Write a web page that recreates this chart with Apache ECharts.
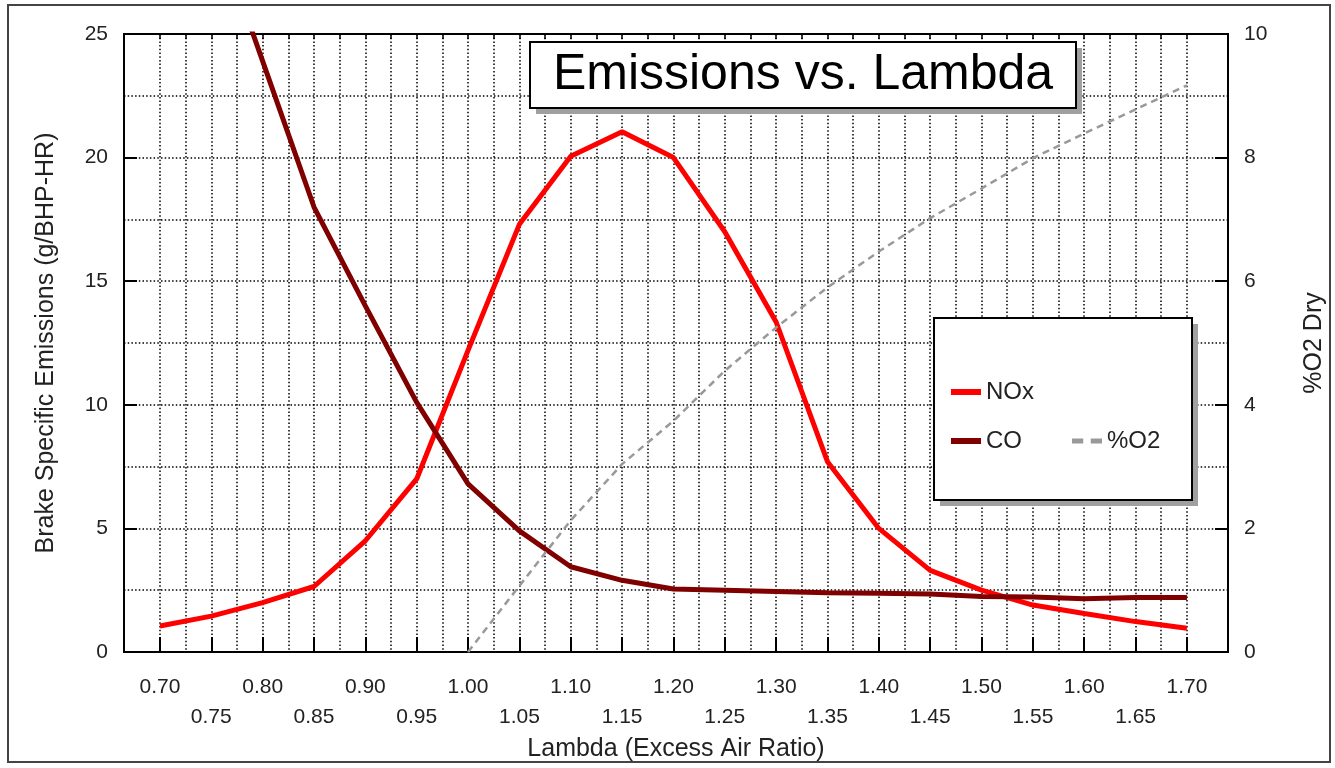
<!DOCTYPE html>
<html>
<head>
<meta charset="utf-8">
<script src="https://cdn.jsdelivr.net/npm/echarts@6/dist/echarts.min.js"></script>
<style>
    html, body {margin: 0; padding: 0; background: #fff;}
    #chart {width: 1335px; height: 768px;}
</style>
</head>
<body>
<div id="chart"></div>
<script>
    // lambda values (x categories / tick labels)
    const lambda = [0.70, 0.75, 0.80, 0.85, 0.90, 0.95, 1.00, 1.05, 1.10, 1.15, 1.20,
        1.25, 1.30, 1.35, 1.40, 1.45, 1.50, 1.55, 1.60, 1.65, 1.70];
    // g/BHP-HR
    const noxData = [1.05, 1.45, 2.0, 2.65, 4.5, 7.0, 12.2, 17.3, 20.05, 21.05, 20.0,
        17.0, 13.35, 7.7, 5.0, 3.3, 2.5, 1.9, 1.56, 1.23, 0.96];
    const coData = [35, 29.8, 23.9, 18.0, 14.0, 10.1, 6.8, 4.9, 3.45, 2.9, 2.55,
        2.5, 2.45, 2.4, 2.38, 2.35, 2.25, 2.22, 2.15, 2.2, 2.2];
    // %O2 dry (right axis)
    const o2Data = ['-', '-', '-', '-', '-', '-', 0, 1.07, 2.13, 3.04, 3.74,
        4.55, 5.25, 5.9, 6.48, 7.02, 7.5, 7.99, 8.39, 8.78, 9.17];
    const leftTicks = [0, 5, 10, 15, 20, 25];
    const rightTicks = [0, 2, 4, 6, 8, 10];

    const FONT = 'Liberation Sans, Arial, sans-serif';
    const TXT = '#222';

    // dotted grid every half step
    const gridValues = [];
    lambda.forEach((v, i) => {
        gridValues.push(v);
        if (i < lambda.length - 1) gridValues.push(+((v + lambda[i + 1]) / 2).toFixed(3));
    });

    const dotted = {color: '#000', width: 1.5, type: [1.5, 2.2]};
    const legendText = {fontFamily: FONT, fontSize: 24, color: TXT};
    const dashIcon = 'path://M0,0h9v4h-9z M15,0h9v4h-9z';

    // box with a flat drop shadow (shadow drawn as its own rect)
    const shadowBox = (x, y, w, h, z) => [
        {
            type: 'rect', silent: true, z: z,
            shape: {x: x + 6, y: y + 6, width: w, height: h},
            style: {fill: '#a0a0a0'}
        },
        {
            type: 'rect', silent: true, z: z + 1,
            shape: {x: x, y: y, width: w, height: h},
            style: {fill: '#fff', stroke: '#000', lineWidth: 2}
        }
    ];

    const chart = echarts.init(document.getElementById('chart'));

    const option = {
        backgroundColor: '#fff',
        animation: false,
        title: {
            text: 'Emissions vs. Lambda',
            left: 803,
            textAlign: 'center',
            top: 48,
            padding: 0,
            z: 20,
            textStyle: {fontFamily: FONT, fontSize: 50, fontWeight: 'normal', color: '#000', lineHeight: 54}
        },
        legend: [
            {
                data: [{name: 'NOx', icon: 'rect'}],
                left: 946, top: 375,
                itemWidth: 30, itemHeight: 6,
                z: 20,
                textStyle: legendText
            },
            {
                data: [{name: 'CO', icon: 'rect'}, {name: '%O2', icon: dashIcon}],
                left: 946, top: 424,
                itemWidth: 30, itemHeight: 6,
                itemGap: 50,
                z: 20,
                textStyle: legendText
            }
        ],
        graphic: [
            {
                type: 'rect', silent: true, z: 0,
                shape: {x: 8, y: 5, width: 1322, height: 757},
                style: {fill: 'none', stroke: '#444', lineWidth: 2}
            },
            ...shadowBox(530, 42, 546, 66, 10),
            ...shadowBox(934, 318, 258, 182, 10)
        ],
        grid: {
            left: 124, top: 34, width: 1104, height: 618,
            show: true, borderColor: '#000', borderWidth: 2, backgroundColor: '#fff'
        },
        xAxis: [
            {
                type: 'value',
                min: 0.665, max: 1.74,
                name: 'Lambda (Excess Air Ratio)',
                nameLocation: 'middle',
                nameGap: 82,
                nameTextStyle: {fontFamily: FONT, fontSize: 25, color: TXT},
                axisLine: {show: false},
                axisTick: {show: false, customValues: gridValues},
                splitLine: {show: true, lineStyle: dotted},
                axisLabel: {
                    customValues: lambda,
                    margin: 20,
                    fontFamily: FONT, fontSize: 21, color: TXT, lineHeight: 30,
                    formatter: (v) => {
                        const idx = Math.round((v - lambda[0]) / 0.05);
                        return (idx % 2 ? '\n' : '') + v.toFixed(2);
                    }
                }
            },
            {
                type: 'value',
                min: 0.665, max: 1.74,
                position: 'bottom',
                axisLine: {show: false},
                axisLabel: {show: false},
                splitLine: {show: false},
                axisTick: {show: true, inside: true, length: 15, customValues: lambda, lineStyle: {color: '#000', width: 2}}
            },
            {
                type: 'value',
                min: 0.665, max: 1.74,
                position: 'top',
                axisLine: {show: false},
                axisLabel: {show: false},
                splitLine: {show: false},
                axisTick: {show: true, inside: true, length: 5, customValues: gridValues, lineStyle: {color: '#000', width: 1.5}}
            }
        ],
        yAxis: [
            {
                type: 'value',
                min: 0, max: 25, interval: 5,
                name: 'Brake Specific Emissions (g/BHP-HR)',
                nameLocation: 'middle',
                nameRotate: 90,
                nameGap: 65,
                nameTextStyle: {fontFamily: FONT, fontSize: 25, color: TXT},
                axisLine: {show: false},
                axisTick: {show: true, inside: true, length: 13, lineStyle: {color: '#000', width: 2}},
                axisLabel: {
                    customValues: leftTicks,
                    margin: 16, fontFamily: FONT, fontSize: 21, color: TXT
                },
                splitLine: {show: true, lineStyle: dotted},
                minorTick: {show: false, splitNumber: 2},
                minorSplitLine: {show: true, lineStyle: dotted}
            },
            {
                type: 'value',
                min: 0, max: 10, interval: 2,
                name: '%O2 Dry',
                nameLocation: 'middle',
                nameRotate: 90,
                nameGap: 74,
                nameTextStyle: {fontFamily: FONT, fontSize: 25, color: TXT},
                axisLine: {show: false},
                axisTick: {show: true, inside: true, length: 13, lineStyle: {color: '#000', width: 2}},
                axisLabel: {
                    customValues: rightTicks,
                    margin: 16, fontFamily: FONT, fontSize: 21, color: TXT
                },
                splitLine: {show: false}
            }
        ],
        series: [
            {
                name: 'NOx',
                type: 'line',
                symbol: 'none',
                color: '#ff0000',
                lineStyle: {width: 5, color: '#ff0000'},
                data: lambda.map((x, i) => [x, noxData[i]]),
                z: 3
            },
            {
                name: 'CO',
                type: 'line',
                symbol: 'none',
                color: '#800000',
                lineStyle: {width: 5, color: '#800000'},
                data: lambda.map((x, i) => [x, coData[i]]),
                z: 3
            },
            {
                name: '%O2',
                type: 'line',
                yAxisIndex: 1,
                symbol: 'none',
                color: '#999',
                lineStyle: {width: 2.5, color: '#999', type: [7, 5]},
                data: lambda.map((x, i) => [x, o2Data[i]]),
                z: 3
            }
        ]
    };

    chart.setOption(option);
</script>
</body>
</html>
